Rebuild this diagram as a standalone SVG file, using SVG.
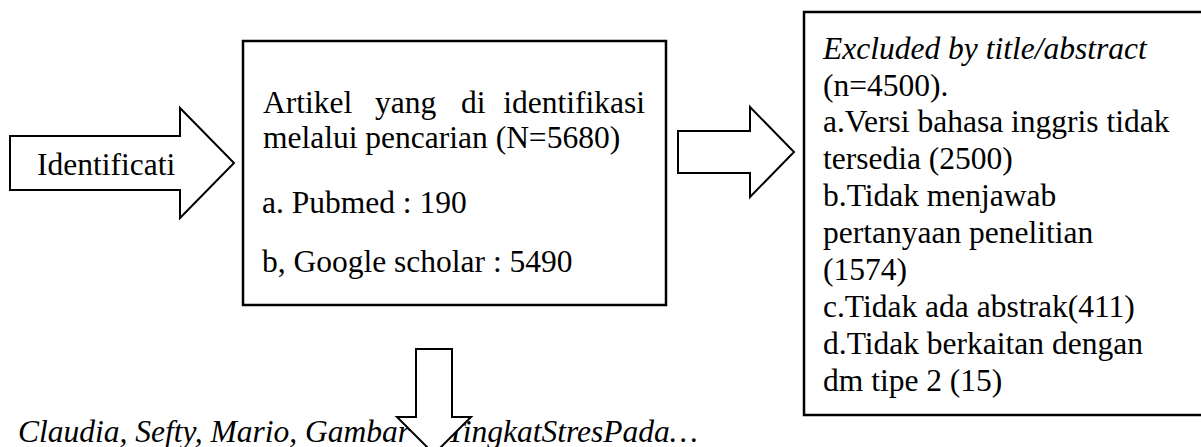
<svg xmlns="http://www.w3.org/2000/svg" width="1201" height="447" viewBox="0 0 1201 447">
<style>
.box{fill:#fff;stroke:#000;stroke-width:2.5}
.arr{fill:#fff;stroke:#000;stroke-width:2;stroke-linejoin:miter}
text{font-family:"Liberation Serif","Times New Roman",serif;font-size:31.5px;fill:#000}
.it{font-style:italic}
</style>
<rect width="1201" height="447" fill="#fff"/>
<g id="footer">
<text class="it" x="18" y="442">Claudia, Sefty, Mario, Gambar<tspan x="447">TingkatStresPada…</tspan></text>
</g>
<g id="connectors">
<polygon class="arr" points="678,131 750,131 750,107 794,152 750,197 750,173 678,173"/>
<polygon class="arr" points="416,349 452,349 452,417 471,417 434,454 397,417 416,417"/>
</g>
<g id="identification">
<polygon class="arr" points="10,136 180,136 180,108 234,163 180,218 180,190 10,190"/>
<text x="37" y="175">Identificati</text>
</g>
<g id="search-results">
<rect class="box" x="243" y="41" width="423" height="264"/>
<text x="263" y="113">Artikel</text>
<text x="375" y="113">yang</text>
<text x="461" y="113">di</text>
<text x="645" y="113" text-anchor="end">identifikasi</text>
<text x="263" y="148">melalui pencarian (N=5680)</text>
<text x="262" y="213">a. Pubmed : 190</text>
<text x="262" y="272">b, Google scholar : 5490</text>
</g>
<g id="excluded">
<rect class="box" x="804" y="12" width="420" height="403"/>
<text class="it" x="823" y="59">Excluded by title/abstract</text>
<text x="823" y="96">(n=4500).</text>
<text x="823" y="132">a.Versi bahasa inggris tidak</text>
<text x="823" y="169">tersedia (2500)</text>
<text x="823" y="206">b.Tidak menjawab</text>
<text x="823" y="243">pertanyaan penelitian</text>
<text x="823" y="280">(1574)</text>
<text x="823" y="317">c.Tidak ada abstrak(411)</text>
<text x="823" y="354">d.Tidak berkaitan dengan</text>
<text x="823" y="391">dm tipe 2 (15)</text>
</g>
</svg>
